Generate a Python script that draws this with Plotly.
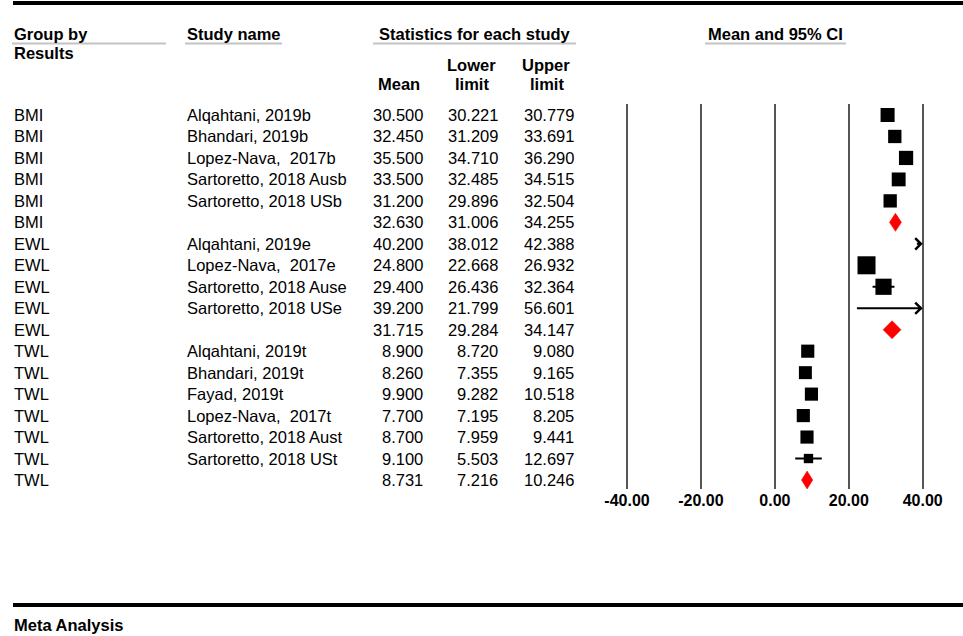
import plotly.graph_objects as go

# ---- data -------------------------------------------------------------
groups = ["BMI"] * 6 + ["EWL"] * 5 + ["TWL"] * 7
studies = [
    "Alqahtani, 2019b", "Bhandari, 2019b", "Lopez-Nava,\u00a0 2017b",
    "Sartoretto, 2018 Ausb", "Sartoretto, 2018 USb", "",
    "Alqahtani, 2019e", "Lopez-Nava,\u00a0 2017e", "Sartoretto, 2018 Ause",
    "Sartoretto, 2018 USe", "",
    "Alqahtani, 2019t", "Bhandari, 2019t", "Fayad, 2019t", "Lopez-Nava,\u00a0 2017t",
    "Sartoretto, 2018 Aust", "Sartoretto, 2018 USt", "",
]
means = [30.500, 32.450, 35.500, 33.500, 31.200, 32.630,
         40.200, 24.800, 29.400, 39.200, 31.715,
         8.900, 8.260, 9.900, 7.700, 8.700, 9.100, 8.731]
lowers = [30.221, 31.209, 34.710, 32.485, 29.896, 31.006,
          38.012, 22.668, 26.436, 21.799, 29.284,
          8.720, 7.355, 9.282, 7.195, 7.959, 5.503, 7.216]
uppers = [30.779, 33.691, 36.290, 34.515, 32.504, 34.255,
          42.388, 26.932, 32.364, 56.601, 34.147,
          9.080, 9.165, 10.518, 8.205, 9.441, 12.697, 10.246]
# relative study weights (largest box = 1)
weights = [0.78, 0.74, 0.79, 0.77, 0.74, None,
           0.78, 1.00, 0.90, 0.17, None,
           0.73, 0.72, 0.73, 0.73, 0.73, 0.52, None]
axis_ticks = [-40, -20, 0, 20, 40]

# ---- layout constants ------------------------------------------------
W, H = 963, 636
FONT = "Arial, 'Liberation Sans', sans-serif"
X_LIM = 40
BOX_MAX = 18          # px side of the heaviest study box
DIAMOND_HALF = 0.42   # rows

rows = list(range(len(means)))
is_summary = [s == "" for s in studies]

fig = go.Figure()

# whiskers (confidence intervals within the scale)
wx, wy = [], []
for i in rows:
    if is_summary[i] or uppers[i] > X_LIM:
        continue
    wx += [max(lowers[i], -X_LIM), uppers[i], None]
    wy += [i, i, None]
fig.add_trace(go.Scatter(x=wx, y=wy, mode="lines",
                         line=dict(color="black", width=2),
                         hoverinfo="skip", showlegend=False, cliponaxis=False))

# study boxes
bx, by, bs = [], [], []
for i in rows:
    if is_summary[i] or means[i] > X_LIM:
        continue
    bx.append(means[i])
    by.append(i)
    bs.append(weights[i] * BOX_MAX)
fig.add_trace(go.Scatter(x=bx, y=by, mode="markers",
                         marker=dict(symbol="square", size=bs, color="black",
                                     opacity=1, line=dict(width=0)),
                         showlegend=False, cliponaxis=False))

# summary diamonds
for i in rows:
    if not is_summary[i]:
        continue
    fig.add_trace(go.Scatter(
        x=[lowers[i], means[i], uppers[i], means[i], lowers[i]],
        y=[i, i - DIAMOND_HALF, i, i + DIAMOND_HALF, i],
        mode="lines", fill="toself", fillcolor="#ff0000",
        line=dict(color="#ff0000", width=0.5),
        showlegend=False, hoverinfo="skip", cliponaxis=False))

annotations = []

# intervals running past the scale end in an arrow
for i in rows:
    if not is_summary[i] and uppers[i] > X_LIM:
        annotations.append(dict(
            x=X_LIM, y=i, xref="x", yref="y",
            ax=lowers[i], ay=i, axref="x", ayref="y",
            text="", showarrow=True, arrowhead=4, arrowsize=1.1,
            arrowwidth=2, arrowcolor="black", standoff=0, startstandoff=0))

def px_x(p):
    return p / W

def px_y(p):
    return 1 - p / H

body = dict(family=FONT, size=16.5, color="black")
bold = dict(family=FONT, size=16.5, color="black")

# table columns
for i in rows:
    annotations.append(dict(x=px_x(12), y=i, xref="paper", yref="y", text=groups[i],
                            xanchor="left", yanchor="middle", showarrow=False, font=body))
    if studies[i]:
        annotations.append(dict(x=px_x(185), y=i, xref="paper", yref="y", text=studies[i],
                                xanchor="left", yanchor="middle", showarrow=False, font=body))
    for val, right in ((means[i], 425), (lowers[i], 500), (uppers[i], 576)):
        annotations.append(dict(x=px_x(right), y=i, xref="paper", yref="y",
                                text=f"{val:.3f}", xanchor="right", yanchor="middle",
                                showarrow=False, font=body))

# headers
def header(text, x, y, anchor="left"):
    annotations.append(dict(x=px_x(x), y=px_y(y), xref="paper", yref="paper",
                            text=f"<b>{text}</b>", xanchor=anchor, yanchor="middle",
                            showarrow=False, font=bold))

header("Group by", 12, 34)
header("Results", 12, 53)
header("Study name", 185, 34)
header("Statistics for each study", 474.5, 34, "center")
header("Mean", 399, 84, "center")
header("Lower", 471, 65, "center")
header("limit", 472, 84, "center")
header("Upper", 546, 65, "center")
header("limit", 547, 84, "center")
header("Mean and 95% CI", 775, 34, "center")
header("Meta Analysis", 12, 625)

shapes = []
# header underlines
for x0, x1 in ((12, 166), (185, 282), (373, 576), (705, 846)):
    shapes.append(dict(type="line", xref="paper", yref="paper",
                       x0=px_x(x0), x1=px_x(x1), y0=px_y(43.5), y1=px_y(43.5),
                       line=dict(color="#c4c4c4", width=2)))
# page rules
for y in (3, 605):
    shapes.append(dict(type="line", xref="paper", yref="paper",
                       x0=px_x(13), x1=1, y0=px_y(y), y1=px_y(y),
                       line=dict(color="black", width=4)))

# forest panel geometry
px_per_unit = (922.7 - 627.0) / 80.0
x_lo, x_hi = -41, 41
left_px = 627.0 + (x_lo + 40) * px_per_unit
right_px = 627.0 + (x_hi + 40) * px_per_unit
top_px, bot_px = 104, 489
row0_px, row_step = 115, (480 - 115) / 17
y_top = (top_px - row0_px) / row_step
y_bot = (bot_px - row0_px) / row_step

fig.update_layout(
    width=W, height=H, autosize=False,
    margin=dict(l=0, r=0, t=0, b=0, pad=0, autoexpand=False),
    paper_bgcolor="white", plot_bgcolor="white",
    showlegend=False,
    font=dict(family=FONT, color="black"),
    annotations=annotations,
    shapes=shapes,
    xaxis=dict(domain=[left_px / W, right_px / W], range=[x_lo, x_hi],
               tickvals=axis_ticks,
               ticktext=[f"<b>{t:.2f}</b>" for t in axis_ticks],
               tickfont=dict(family=FONT, size=16, color="black"),
               showgrid=True, gridcolor="#555555", gridwidth=2,
               zeroline=False, showline=False, ticks="", fixedrange=True,
               automargin=False),
    yaxis=dict(domain=[1 - bot_px / H, 1 - top_px / H], range=[y_bot, y_top],
               showticklabels=False, showgrid=False, zeroline=False,
               showline=False, ticks="", fixedrange=True, automargin=False),
)

fig.write_html("out.html")
